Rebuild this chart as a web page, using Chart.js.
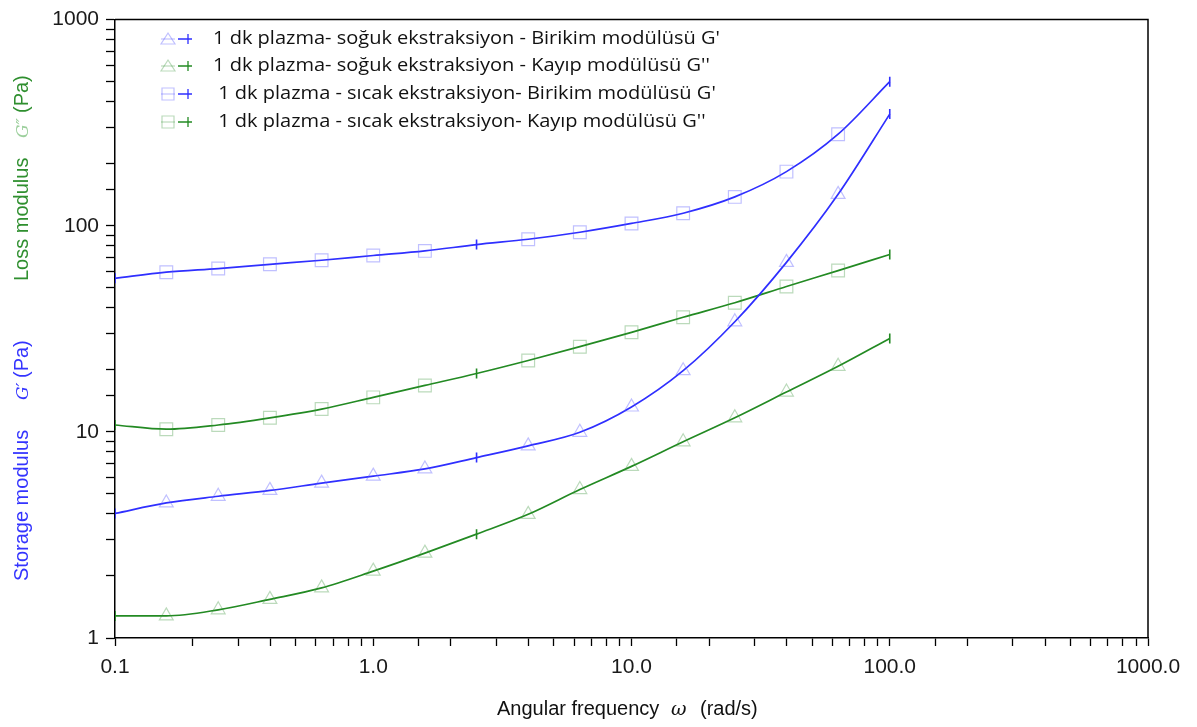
<!DOCTYPE html>
<html>
<head>
<meta charset="utf-8">
<script src="https://cdn.jsdelivr.net/npm/chart.js@4.4.1/dist/chart.umd.min.js"></script>
<style>
  html, body { margin: 0; padding: 0; background: #fff; }
  #wrap { width: 1197px; height: 727px; }
</style>
</head>
<body>
<div id="wrap"><canvas id="chart" width="1197" height="727"></canvas></div>
<script>
// angular frequency (rad/s)
const freq = [0.1, 0.158, 0.251, 0.398, 0.631, 1.0, 1.585, 2.512, 3.981, 6.31, 10.0, 15.85, 25.12, 39.81, 63.1, 100.0];

// moduli (Pa)
const coldStorage = [4.02, 4.52, 4.87, 5.2, 5.64, 6.1, 6.61, 7.5, 8.55, 9.95, 13.2, 19.8, 34.2, 66.4, 142, 348];
const coldLoss = [1.28, 1.28, 1.37, 1.54, 1.75, 2.11, 2.58, 3.19, 3.98, 5.25, 6.8, 8.95, 11.7, 15.6, 20.8, 28.4];
const hotStorage = [55.6, 59.5, 62, 65, 68, 71.7, 75.5, 81, 86, 93, 102.6, 115, 138, 183, 278, 500];
const hotLoss = [10.8, 10.3, 10.8, 11.7, 12.9, 14.7, 16.8, 19.2, 22.2, 25.9, 30.4, 36, 42.3, 50.7, 60.6, 72.5];

const seriesLabels = [
  "1 dk plazma- soğuk ekstraksiyon - Birikim modülüsü G'",
  "1 dk plazma- soğuk ekstraksiyon - Kayıp modülüsü G''",
  " 1 dk plazma - sıcak ekstraksiyon- Birikim modülüsü G'",
  " 1 dk plazma - sıcak ekstraksiyon- Kayıp modülüsü G''"
];

const xTickLabels = { 0.1: "0.1", 1: "1.0", 10: "10.0", 100: "100.0", 1000: "1000.0" };
const yTickLabels = { 1: "1", 10: "10", 100: "100", 1000: "1000" };

// points that show only the small "+" tick instead of the open marker
const tickIdx = [0, 7, 15];

const COLORS = {
  blue: "#2f2fff",
  blueLight: "rgba(90,90,255,0.38)",
  green: "#238a23",
  greenLight: "rgba(60,150,60,0.35)"
};

function makeSet(label, values, color, light, shape) {
  const pts = freq.map((f, i) => ({ x: f, y: values[i] }));
  return {
    label,
    data: pts,
    borderColor: color,
    borderWidth: 1.7,
    cubicInterpolationMode: "monotone",
    pointStyle: pts.map((p, i) => tickIdx.includes(i) ? "line" : shape),
    pointRotation: pts.map((p, i) => tickIdx.includes(i) ? 90 : 0),
    pointRadius: pts.map((p, i) => tickIdx.includes(i) ? 5 : (shape === "rect" ? 9 : 8)),
    pointBorderColor: pts.map((p, i) => tickIdx.includes(i) ? color : light),
    pointBackgroundColor: "rgba(0,0,0,0)",
    pointBorderWidth: pts.map((p, i) => tickIdx.includes(i) ? 1.6 : 1.2),
    fill: false,
    _shape: shape,
    _light: light
  };
}

const datasets = [
  makeSet(seriesLabels[0], coldStorage, COLORS.blue, COLORS.blueLight, "triangle"),
  makeSet(seriesLabels[1], coldLoss, COLORS.green, COLORS.greenLight, "triangle"),
  makeSet(seriesLabels[2], hotStorage, COLORS.blue, COLORS.blueLight, "rect"),
  makeSet(seriesLabels[3], hotLoss, COLORS.green, COLORS.greenLight, "rect")
];

function isDecade(v) {
  const l = Math.log10(v);
  return Math.abs(l - Math.round(l)) < 1e-6;
}

// frame, legend and axis titles drawn by hand
const decorPlugin = {
  id: "decor",
  afterDraw(chart) {
    const ctx = chart.ctx;
    const a = chart.chartArea;
    ctx.save();
    ctx.strokeStyle = "#000";
    ctx.lineWidth = 1.5;
    ctx.beginPath();
    ctx.moveTo(a.left, a.top);
    ctx.lineTo(a.right, a.top);
    ctx.lineTo(a.right, a.bottom);
    ctx.stroke();

    // legend
    const rows = [39, 66, 94, 122];
    ctx.font = "18px 'Open Sans'";
    const w0 = ctx.measureText(seriesLabels[0]).width;
    const sx = 507 / w0;
    chart.data.datasets.forEach((ds, i) => {
      const y = rows[i];
      const mx = 168;
      ctx.lineWidth = 1.2;
      ctx.strokeStyle = ds._light;
      ctx.beginPath();
      if (ds._shape === "triangle") {
        ctx.moveTo(mx, y - 6);
        ctx.lineTo(mx + 7, y + 5);
        ctx.lineTo(mx - 7, y + 5);
        ctx.closePath();
      } else {
        ctx.rect(mx - 6, y - 6, 12, 12);
      }
      ctx.stroke();
      ctx.beginPath();
      ctx.moveTo(mx - 7, y);
      ctx.lineTo(mx + 7, y);
      ctx.stroke();
      ctx.strokeStyle = ds.borderColor;
      ctx.lineWidth = 1.3;
      ctx.beginPath();
      ctx.moveTo(mx + 10, y);
      ctx.lineTo(mx + 24, y);
      ctx.moveTo(mx + 20, y - 5);
      ctx.lineTo(mx + 20, y + 5);
      ctx.stroke();

      ctx.save();
      ctx.fillStyle = "#111";
      ctx.textBaseline = "middle";
      ctx.translate(213, y);
      ctx.scale(sx, 1);
      ctx.fillText(ds.label, 0, 0);
      ctx.restore();
    });

    // y-axis title (rotated)
    ctx.save();
    ctx.translate(28, 581);
    ctx.rotate(-Math.PI / 2);
    ctx.textBaseline = "alphabetic";
    const segs = [
      { t: "Storage modulus", x: 0, c: "#3434ff", f: "20px 'Liberation Sans'" },
      { t: "G\u2032", x: 181, c: "#3434ff", f: "italic 17px 'DejaVu Serif'" },
      { t: "(Pa)", x: 203, c: "#3434ff", f: "20px 'Liberation Sans'" },
      { t: "Loss modulus", x: 300, c: "#2f8f2f", f: "20px 'Liberation Sans'" },
      { t: "G\u2033", x: 443, c: "#9ccf9c", f: "italic 17px 'DejaVu Serif'" },
      { t: "(Pa)", x: 468, c: "#2f8f2f", f: "20px 'Liberation Sans'" }
    ];
    segs.forEach(s => {
      ctx.font = s.f;
      ctx.fillStyle = s.c;
      ctx.fillText(s.t, s.x, 0);
    });
    ctx.restore();

    // x-axis title
    ctx.fillStyle = "#111";
    ctx.textBaseline = "alphabetic";
    ctx.font = "20px 'Liberation Sans'";
    ctx.fillText("Angular frequency", 497, 715);
    ctx.font = "italic 19px 'DejaVu Serif'";
    ctx.fillText("\u03c9", 671, 715);
    ctx.font = "20px 'Liberation Sans'";
    ctx.fillText("(rad/s)", 700, 715);
    ctx.restore();
  }
};

new Chart(document.getElementById("chart"), {
  type: "line",
  data: { datasets },
  options: {
    responsive: false,
    animation: false,
    layout: { padding: { top: 15, right: 49, left: 0, bottom: 0 } },
    plugins: { legend: { display: false }, tooltip: { enabled: false } },
    scales: {
      x: {
        type: "logarithmic",
        min: 0.1,
        max: 1000,
        afterFit: s => { s.height = 89; },
        border: { color: "#000", width: 1.5 },
        grid: { drawOnChartArea: false, drawTicks: true, tickLength: 8, tickColor: "#000", tickWidth: 1.3 },
        ticks: {
          autoSkip: false,
          maxRotation: 0,
          padding: 9,
          color: "#1a1a1a",
          font: { family: "'Liberation Sans'", size: 21 },
          callback: v => isDecade(v) ? xTickLabels[Math.round(v * 10) / 10] || "" : ""
        }
      },
      y: {
        type: "logarithmic",
        min: 1,
        max: 1000,
        afterFit: s => { s.width = 115; },
        border: { color: "#000", width: 1.5 },
        grid: { drawOnChartArea: false, drawTicks: true, tickLength: 9, tickColor: "#000", tickWidth: 1.3 },
        ticks: {
          autoSkip: false,
          padding: 7,
          color: "#1a1a1a",
          font: { family: "'Liberation Sans'", size: 21 },
          callback: v => isDecade(v) ? yTickLabels[Math.round(v)] || "" : ""
        }
      }
    }
  },
  plugins: [decorPlugin]
});
</script>
</body>
</html>
